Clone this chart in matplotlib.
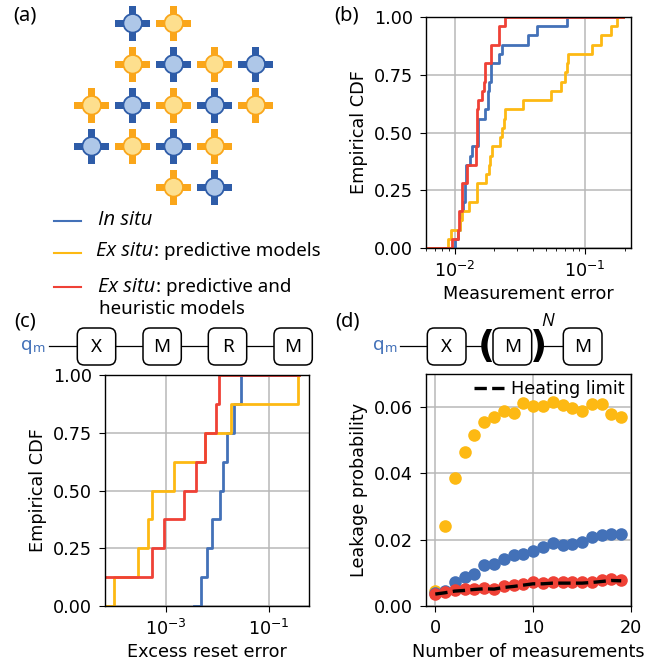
import matplotlib.pyplot as plt
from matplotlib.patches import Circle, FancyBboxPatch, Rectangle

BLUE = "#4371b8"
ORANGE = "#fdb913"
RED = "#ef4136"
DARK_BLUE = "#2e5ca8"
DARK_ORANGE = "#faa61a"
LIGHT_BLUE = "#aec7e8"
LIGHT_ORANGE = "#fddf8e"
LABEL_FONT = "Noto Sans"
ITALIC_FONT = "Open Sans"

# panel a: qubit layout, (row, column, is_blue)
QUBITS = [
    (0, 1, True), (0, 2, False),
    (1, 1, False), (1, 2, True), (1, 3, False), (1, 4, True),
    (2, 0, False), (2, 1, True), (2, 2, False), (2, 3, True), (2, 4, False),
    (3, 0, True), (3, 1, False), (3, 2, True), (3, 3, False),
    (4, 2, False), (4, 3, True),
]

# panel b: measurement error CDF
b_blue_x = [0.00603, 0.01006, 0.01048, 0.01086, 0.0111, 0.01151, 0.01186, 0.0122, 0.01295, 0.01357,
            0.01491, 0.01686, 0.01778, 0.01821, 0.01886, 0.02173, 0.02276, 0.03662, 0.04245, 0.0719, 0.1931]
b_blue_y = [0, 0.04, 0.08, 0.12, 0.16, 0.20, 0.28, 0.36, 0.40, 0.44,
            0.56, 0.60, 0.68, 0.72, 0.80, 0.84, 0.88, 0.92, 0.96, 1.0, 1.0]
b_orange_x = [0.00603, 0.00879, 0.00932, 0.01086, 0.01131, 0.01287, 0.01474, 0.01737, 0.0181, 0.01864,
              0.0193, 0.02223, 0.02303, 0.02358, 0.02442, 0.03314, 0.0549, 0.06475, 0.06988, 0.07196,
              0.07368, 0.1125, 0.1326, 0.1563, 0.1737, 0.1931]
b_orange_y = [0, 0.04, 0.08, 0.12, 0.16, 0.20, 0.28, 0.32, 0.36, 0.40,
              0.44, 0.48, 0.52, 0.56, 0.60, 0.64, 0.68, 0.72, 0.76, 0.80,
              0.84, 0.88, 0.92, 0.96, 1.0, 1.0]
b_red_x = [0.00603, 0.00954, 0.01048, 0.01073, 0.01125, 0.01138, 0.01235, 0.01448, 0.01482, 0.01509,
           0.016, 0.01657, 0.01687, 0.01886, 0.02184, 0.02428, 0.1931]
b_red_y = [0, 0.04, 0.08, 0.16, 0.20, 0.28, 0.36, 0.44, 0.60, 0.64,
           0.68, 0.72, 0.80, 0.88, 0.96, 1.0, 1.0]

# panel c: excess reset error CDF
c_blue_x = [0.00357, 0.00488, 0.00637, 0.00794, 0.01117, 0.01276, 0.01525, 0.02113, 0.02884, 0.3733]
c_blue_y = [0, 0.125, 0.25, 0.375, 0.5, 0.625, 0.75, 0.875, 1.0, 1.0]
c_orange_x = [0.00006, 0.000101, 0.000297, 0.00045, 0.000553, 0.00147, 0.00574, 0.01795, 0.3524, 0.3733]
c_orange_y = [0, 0.125, 0.25, 0.375, 0.5, 0.625, 0.75, 0.875, 1.0, 1.0]
c_red_x = [0.00006, 0.000553, 0.000929, 0.00226, 0.00379, 0.00574, 0.00935, 0.01069, 0.3733]
c_red_y = [0.125, 0.25, 0.375, 0.5, 0.625, 0.75, 0.875, 1.0, 1.0]

# panel d: leakage vs number of measurements
n_meas = list(range(20))
d_orange = [0.0044, 0.0242, 0.0385, 0.0464, 0.0515, 0.0554, 0.0569, 0.0587, 0.0582, 0.0613,
            0.0604, 0.0602, 0.0617, 0.0607, 0.0597, 0.0589, 0.0609, 0.0608, 0.0578, 0.0571]
d_blue = [0.004, 0.0045, 0.0073, 0.0088, 0.0098, 0.0123, 0.0128, 0.0143, 0.0153, 0.0158,
          0.0166, 0.0178, 0.019, 0.0183, 0.0188, 0.0193, 0.0208, 0.0213, 0.0218, 0.0216]
d_red = [0.0037, 0.0043, 0.0048, 0.005, 0.0052, 0.0055, 0.0052, 0.006, 0.0063, 0.0067,
         0.0072, 0.0069, 0.0072, 0.0072, 0.0072, 0.0073, 0.0073, 0.0077, 0.008, 0.0078]
d_heating = [0.0036, 0.004, 0.0045, 0.0047, 0.005, 0.0052, 0.0051, 0.0056, 0.0059, 0.0063,
             0.0067, 0.0067, 0.0069, 0.0069, 0.0069, 0.0069, 0.0071, 0.0074, 0.0077, 0.0076]

W, H = 658, 665
TEXT_SIZE = 13.5
ITALIC_SIZE = 14.5


def make_axes(fig, left, right, top, bottom):
    return fig.add_axes([left / W, 1 - bottom / H, (right - left) / W, (bottom - top) / H])


def plot_cdf(ax, series, xlim, xlabel, xticks):
    for x, y, color in series:
        ax.step(x, y, where="post", color=color, linewidth=2.0)
    ax.set_xscale("log")
    ax.set_xlim(*xlim)
    ax.set_ylim(0, 1)
    ax.set_yticks([0, 0.25, 0.5, 0.75, 1.0])
    ax.set_yticklabels(["0.00", "0.25", "0.50", "0.75", "1.00"])
    ax.set_xticks(xticks)
    ax.set_xlabel(xlabel, labelpad=2.5)
    ax.set_ylabel("Empirical CDF")
    ax.grid(True, which="major", color="#b8b8b8", linewidth=1.1)
    ax.set_axisbelow(True)


def draw_box(bg, x0, x1, letter):
    y0, y1 = 328, 365
    bg.add_patch(FancyBboxPatch((x0 + 6, y0 + 6), x1 - x0 - 12, y1 - y0 - 12, boxstyle="round,pad=6,rounding_size=7",
                                facecolor="white", edgecolor="black", linewidth=1.1, zorder=3))
    bg.text((x0 + x1) / 2, 346.5, letter, ha="center", va="center", fontsize=13.5, family=LABEL_FONT, zorder=4)


def italic_then_plain(fig, bg, x, y, italic, plain):
    t = bg.text(x, y, italic, style="italic", va="center", fontsize=ITALIC_SIZE, family=ITALIC_FONT)
    if plain:
        box = t.get_window_extent(fig.canvas.get_renderer())
        bg.text(box.x1 + 0.5, y, plain, va="center", fontsize=TEXT_SIZE, family=LABEL_FONT)


def draw_schematic(fig, bg):
    spacing = 41
    for row, col, is_blue in QUBITS:
        cx = 91.7 + col * spacing
        cy = 23.3 + row * spacing
        edge = DARK_BLUE if is_blue else DARK_ORANGE
        fill = LIGHT_BLUE if is_blue else LIGHT_ORANGE
        bg.add_patch(Rectangle((cx - 17.5, cy - 3.5), 35, 7, color=edge, linewidth=0))
        bg.add_patch(Rectangle((cx - 3.5, cy - 17.5), 7, 35, color=edge, linewidth=0))
        bg.add_patch(Circle((cx, cy), 9.3, facecolor=fill, edgecolor=edge, linewidth=1.3, zorder=2))

    for y, color in [(221, BLUE), (252.7, ORANGE), (287.3, RED)]:
        bg.plot([54, 81], [y, y], color=color, linewidth=1.5)
    italic_then_plain(fig, bg, 97.5, 220, "In situ", "")
    italic_then_plain(fig, bg, 96, 251.5, "Ex situ", ": predictive models")
    italic_then_plain(fig, bg, 98.5, 286.5, "Ex situ", ": predictive and")
    bg.text(99, 309, "heuristic models", va="center", fontsize=TEXT_SIZE, family=LABEL_FONT)

    for label, x, y in [("(a)", 13, 15), ("(b)", 334, 15), ("(c)", 14, 321), ("(d)", 335, 321)]:
        bg.text(x, y, label, va="center", fontsize=14.5, family=LABEL_FONT)


def draw_circuits(bg):
    # panel c circuit
    bg.plot([49, 300], [346, 346], color="black", linewidth=0.9, zorder=1)
    bg.text(33, 345, "q", color=BLUE, ha="right", va="center", fontsize=13.5, family=LABEL_FONT)
    bg.text(33, 349, "m", color=BLUE, ha="left", va="center", fontsize=9.5, family=LABEL_FONT)
    for x0, x1, letter in [(77.3, 115.7, "X"), (143, 181.3, "M"), (208.3, 246.7, "R"), (274, 312.3, "M")]:
        draw_box(bg, x0, x1, letter)

    # panel d circuit
    for xa, xb in [(400, 430), (462, 484), (543, 566)]:
        bg.plot([xa, xb], [346, 346], color="black", linewidth=0.9, zorder=1)
    bg.text(385, 345, "q", color=BLUE, ha="right", va="center", fontsize=13.5, family=LABEL_FONT)
    bg.text(385, 349, "m", color=BLUE, ha="left", va="center", fontsize=9.5, family=LABEL_FONT)
    for x0, x1, letter in [(427.3, 466, "X"), (493, 531.7, "M"), (563.3, 602, "M")]:
        draw_box(bg, x0, x1, letter)
    for x, paren in [(486, "("), (539, ")")]:
        bg.text(x, 346.5, paren, ha="center", va="center", fontsize=27, fontweight="bold", family="DejaVu Sans", zorder=4)
    bg.text(548, 321, "N", ha="center", va="center", fontsize=13, style="italic", family=ITALIC_FONT)


def main():
    plt.rcParams.update(
        {
            "font.size": 12.7,
            "axes.linewidth": 1.0,
            "axes.labelpad": 4.0,
            "xtick.major.size": 4.4,
            "ytick.major.size": 4.4,
            "xtick.major.pad": 5.0,
            "ytick.major.pad": 5.0,
        }
    )

    fig = plt.figure(figsize=(W / 100, H / 100), dpi=100)

    bg = fig.add_axes([0, 0, 1, 1])
    bg.set_xlim(0, W)
    bg.set_ylim(H, 0)
    bg.axis("off")
    draw_schematic(fig, bg)
    draw_circuits(bg)

    ax_b = make_axes(fig, 426, 631, 17, 248)
    plot_cdf(
        ax_b,
        [(b_blue_x, b_blue_y, BLUE), (b_orange_x, b_orange_y, ORANGE), (b_red_x, b_red_y, RED)],
        (0.0060, 0.224),
        "Measurement error",
        [0.01, 0.1],
    )

    ax_c = make_axes(fig, 105, 309, 375, 606)
    plot_cdf(
        ax_c,
        [(c_blue_x, c_blue_y, BLUE), (c_orange_x, c_orange_y, ORANGE), (c_red_x, c_red_y, RED)],
        (6.8e-5, 0.585),
        "Excess reset error",
        [0.001, 0.1],
    )
    ax_c.minorticks_off()

    ax_d = make_axes(fig, 426, 631, 374, 606)
    ax_d.scatter(n_meas, d_orange, s=82, color=ORANGE, linewidths=0, zorder=3)
    ax_d.scatter(n_meas, d_blue, s=82, color=BLUE, linewidths=0, zorder=3)
    ax_d.scatter(n_meas, d_red, s=82, color=RED, linewidths=0, zorder=3)
    ax_d.plot(n_meas, d_heating, color="black", linewidth=2.4, linestyle="--", label="Heating limit", zorder=4)
    ax_d.set_xlim(-0.95, 20)
    ax_d.set_ylim(0, 0.07)
    ax_d.set_xticks([0, 10, 20])
    ax_d.set_yticks([0, 0.02, 0.04, 0.06])
    ax_d.set_yticklabels(["0.00", "0.02", "0.04", "0.06"])
    ax_d.set_xlabel("Number of measurements")
    ax_d.set_ylabel("Leakage probability")
    ax_d.grid(True, color="#b8b8b8", linewidth=1.1)
    ax_d.set_axisbelow(True)
    ax_d.legend(loc="upper right", frameon=False, fontsize=12.7, borderaxespad=0.25, borderpad=0.1,
                handlelength=1.7, handletextpad=0.4)

    fig.savefig("out.png", dpi=100)
    plt.close(fig)


if __name__ == "__main__":
    main()
